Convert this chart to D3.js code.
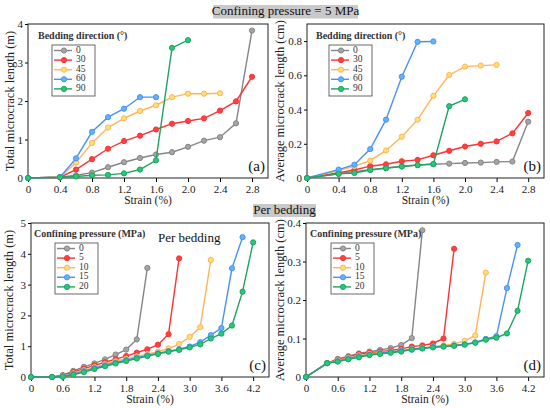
<!DOCTYPE html>
<html>
<head>
<meta charset="utf-8">
<script src="https://cdn.jsdelivr.net/npm/d3@7"></script>
<style>
  body { margin: 0; background: #fff; }
  svg text { font-family: "Liberation Serif", "Times New Roman", Times, serif; }
</style>
</head>
<body>
<svg id="chart" width="550" height="408"></svg>
<script>
// ---- data ----
const strainAB = [0, 0.4, 0.6, 0.8, 1.0, 1.2, 1.4, 1.6, 1.8, 2.0, 2.2, 2.4, 2.6, 2.8];
const strainCD = [0, 0.4, 0.6, 0.8, 1.0, 1.2, 1.4, 1.6, 1.8, 2.0, 2.2, 2.4, 2.6, 2.8, 3.0, 3.2, 3.4, 3.6, 3.8, 4.0, 4.2];

const beddingLabels = ["0", "30", "45", "60", "90"];
const pressureLabels = ["0", "5", "10", "15", "20"];

// (a) total microcrack length (m), 5 MPa confining pressure
const totalBed0  = [0, 0.02, 0.07, 0.14, 0.28, 0.41, 0.52, 0.61, 0.67, 0.81, 0.97, 1.06, 1.42, 3.83];
const totalBed30 = [0, 0.02, 0.22, 0.49, 0.76, 0.96, 1.10, 1.26, 1.41, 1.48, 1.55, 1.75, 1.99, 2.63];
const totalBed45 = [0, 0.02, 0.40, 0.91, 1.31, 1.55, 1.74, 1.89, 2.10, 2.19, 2.19, 2.20];
const totalBed60 = [0, 0.02, 0.51, 1.20, 1.58, 1.80, 2.10, 2.10];
const totalBed90 = [0, 0.02, 0.04, 0.07, 0.08, 0.12, 0.22, 0.46, 3.38, 3.58];

// (b) average microcrack length (cm), 5 MPa confining pressure
const avgBed0  = [0, 0.025, 0.037, 0.049, 0.059, 0.069, 0.076, 0.080, 0.084, 0.088, 0.090, 0.094, 0.096, 0.329];
const avgBed30 = [0, 0.031, 0.047, 0.069, 0.080, 0.098, 0.106, 0.133, 0.159, 0.184, 0.200, 0.214, 0.261, 0.380];
const avgBed45 = [0, 0.043, 0.069, 0.102, 0.161, 0.241, 0.341, 0.480, 0.602, 0.651, 0.657, 0.661];
const avgBed60 = [0, 0.049, 0.078, 0.169, 0.341, 0.592, 0.796, 0.798];
const avgBed90 = [0, 0.024, 0.029, 0.047, 0.057, 0.067, 0.075, 0.082, 0.420, 0.460];

// (c) total microcrack length (m), per bedding
const totalP0  = [0, 0, 0.06, 0.20, 0.33, 0.44, 0.57, 0.73, 0.89, 1.22, 3.54];
const totalP5  = [0, 0, 0.05, 0.16, 0.27, 0.38, 0.48, 0.58, 0.68, 0.79, 0.90, 1.05, 1.39, 3.85];
const totalP10 = [0, 0, 0.03, 0.12, 0.22, 0.32, 0.42, 0.51, 0.59, 0.67, 0.74, 0.82, 0.93, 1.07, 1.30, 1.62, 3.80];
const totalP15 = [0, 0, 0.02, 0.10, 0.19, 0.29, 0.38, 0.47, 0.55, 0.63, 0.70, 0.77, 0.84, 0.90, 0.99, 1.13, 1.36, 1.59, 3.53, 4.54];
const totalP20 = [0, 0, 0.01, 0.07, 0.16, 0.26, 0.35, 0.44, 0.52, 0.60, 0.68, 0.75, 0.82, 0.88, 0.96, 1.06, 1.25, 1.41, 1.67, 2.77, 4.37];

// (d) average microcrack length (cm), per bedding
const avgP0  = [0, 0.036, 0.047, 0.054, 0.061, 0.066, 0.070, 0.075, 0.083, 0.101, 0.381];
const avgP5  = [0, 0.036, 0.045, 0.052, 0.060, 0.063, 0.066, 0.069, 0.073, 0.079, 0.082, 0.087, 0.100, 0.333];
const avgP10 = [0, 0.036, 0.043, 0.050, 0.056, 0.060, 0.063, 0.066, 0.069, 0.073, 0.076, 0.079, 0.082, 0.086, 0.094, 0.108, 0.271];
const avgP15 = [0, 0.036, 0.041, 0.048, 0.054, 0.058, 0.062, 0.065, 0.068, 0.072, 0.075, 0.078, 0.080, 0.082, 0.085, 0.090, 0.099, 0.106, 0.231, 0.343];
const avgP20 = [0, 0.036, 0.040, 0.046, 0.051, 0.057, 0.060, 0.063, 0.066, 0.071, 0.074, 0.077, 0.079, 0.081, 0.084, 0.089, 0.097, 0.102, 0.113, 0.172, 0.302];

// tick values
const xTicksAB = [0, 0.4, 0.8, 1.2, 1.6, 2.0, 2.4, 2.8];
const xTicksCD = [0, 0.6, 1.2, 1.8, 2.4, 3.0, 3.6, 4.2];
const yTicksA = [0, 1, 2, 3, 4];
const yTicksB = [0, 0.2, 0.4, 0.6, 0.8];
const yTicksC = [0, 1, 2, 3, 4, 5];
const yTicksD = [0, 0.1, 0.2, 0.3, 0.4];

const seriesColors = ["#858585", "#f83434", "#ffb45c", "#4b91f5", "#1fa262"];

// ---- layout ----
const svg = d3.select("#chart");

const panels = [
    { id: "(a)", box: [28, 24, 268, 178], xMax: 3.0, yMax: 4, xTicks: xTicksAB, yTicks: yTicksA,
      x: strainAB, series: [totalBed0, totalBed30, totalBed45, totalBed60, totalBed90],
      labels: beddingLabels, legendTitle: "Bedding direction (°)",
      yTitle: "Total microcrack length (m)", yTitleX: 11, legend: [52, 45, 43, 14] },
    { id: "(b)", box: [307, 24, 544, 178], xMax: 3.0, yMax: 0.9, xTicks: xTicksAB, yTicks: yTicksB,
      x: strainAB, series: [avgBed0, avgBed30, avgBed45, avgBed60, avgBed90],
      labels: beddingLabels, legendTitle: "Bedding direction (°)",
      yTitle: "Average  microcrack length (cm)", yTitleX: 281, legend: [329, 45, 43, 13] },
    { id: "(c)", box: [31, 223, 269, 377], xMax: 4.5, yMax: 5, xTicks: xTicksCD, yTicks: yTicksC,
      x: strainCD, series: [totalP0, totalP5, totalP10, totalP15, totalP20],
      labels: pressureLabels, legendTitle: "Confining pressure (MPa)",
      yTitle: "Total microcrack length (m)", yTitleX: 10, legend: [55, 243, 43, 21] },
    { id: "(d)", box: [306, 223, 544, 377], xMax: 4.5, yMax: 0.4, xTicks: xTicksCD, yTicks: yTicksD,
      x: strainCD, series: [avgP0, avgP5, avgP10, avgP15, avgP20],
      labels: pressureLabels, legendTitle: "Confining pressure (MPa)",
      yTitle: "Average microcrack length (cm)", yTitleX: 281, legend: [331, 243, 43, 21] }
];

function fmt(v) {
    return v === 0 ? "0" : d3.format(".1f")(v);
}

panels.forEach(p => {
    const [left, top, right, bottom] = p.box;
    const x = d3.scaleLinear().domain([0, p.xMax]).range([left, right]);
    const y = d3.scaleLinear().domain([0, p.yMax]).range([bottom, top]);
    const g = svg.append("g");

    // axes
    g.append("g")
        .attr("transform", `translate(0,${bottom})`)
        .call(d3.axisBottom(x).tickValues(p.xTicks).tickFormat(fmt).tickSize(4).tickPadding(3))
        .call(a => a.select(".domain").remove())
        .call(a => a.selectAll("text").attr("font-size", 11).attr("fill", "#222"));
    g.append("g")
        .attr("transform", `translate(${left},0)`)
        .call(d3.axisLeft(y).tickValues(p.yTicks).tickFormat(p.yMax > 1 ? d3.format("d") : fmt).tickSize(3).tickPadding(2))
        .call(a => a.select(".domain").remove())
        .call(a => a.selectAll("text").attr("font-size", 11).attr("fill", "#222"));

    // frame
    g.append("rect")
        .attr("x", left).attr("y", top)
        .attr("width", right - left).attr("height", bottom - top)
        .attr("fill", "none").attr("stroke", "#222").attr("stroke-width", 1);

    // axis titles
    g.append("text")
        .attr("x", (left + right) / 2).attr("y", bottom + 26)
        .attr("text-anchor", "middle").attr("font-size", 11.5).attr("fill", "#222")
        .text("Strain (%)");
    g.append("text")
        .attr("transform", `translate(${p.yTitleX},${(top + bottom) / 2}) rotate(-90)`)
        .attr("text-anchor", "middle").attr("dominant-baseline", "middle")
        .attr("font-size", 12.5).attr("fill", "#222")
        .text(p.yTitle);

    // series
    const line = d3.line().x(d => x(d[0])).y(d => y(d[1]));
    p.series.forEach((vals, i) => {
        const pts = vals.map((v, j) => [p.x[j], v]);
        const col = seriesColors[i];
        g.append("path")
            .attr("d", line(pts))
            .attr("fill", "none").attr("stroke", col).attr("stroke-width", 1.4);
        g.selectAll(null).data(pts).enter().append("circle")
            .attr("cx", d => x(d[0])).attr("cy", d => y(d[1]))
            .attr("r", 2.6)
            .attr("fill", d3.color(col).brighter(0.6))
            .attr("stroke", col).attr("stroke-width", 1);
    });

    // panel label
    g.append("text")
        .attr("x", right - 3).attr("y", bottom - 7)
        .attr("text-anchor", "end").attr("font-size", 15).attr("fill", "#111")
        .text(p.id);

    // legend
    const [lx, ly, lw, titleShift] = p.legend;
    g.append("text")
        .attr("x", lx - titleShift).attr("y", ly - 6)
        .attr("font-size", 10).attr("font-weight", "bold").attr("fill", "#333")
        .text(p.legendTitle);
    g.append("rect")
        .attr("x", lx).attr("y", ly).attr("width", lw).attr("height", 51)
        .attr("fill", "#fff").attr("stroke", "#444").attr("stroke-width", 0.8);
    p.labels.forEach((lab, i) => {
        const yy = ly + 5.5 + i * 9.6;
        const col = seriesColors[i];
        g.append("line")
            .attr("x1", lx + 2).attr("x2", lx + 20).attr("y1", yy).attr("y2", yy)
            .attr("stroke", col).attr("stroke-width", 1.4);
        g.append("circle")
            .attr("cx", lx + 12).attr("cy", yy).attr("r", 2.6)
            .attr("fill", d3.color(col).brighter(0.6)).attr("stroke", col);
        g.append("text")
            .attr("x", lx + 24).attr("y", yy).attr("dominant-baseline", "middle")
            .attr("font-size", 9.5).attr("fill", "#333")
            .text(lab);
    });
});

// "Per bedding" annotation inside (c)
svg.append("text")
    .attr("x", 158).attr("y", 242)
    .attr("font-size", 13).attr("fill", "#111")
    .text("Per bedding");

// banners
const banners = [
    { text: "Confining pressure = 5 MPa", box: [213, 5, 358, 18.5] },
    { text: "Per bedding", box: [253, 204, 316, 217] }
];
banners.forEach(b => {
    const [x0, y0, x1, y1] = b.box;
    svg.append("rect")
        .attr("x", x0).attr("y", y0).attr("width", x1 - x0).attr("height", y1 - y0)
        .attr("fill", "#c9c9c9");
    svg.append("text")
        .attr("x", (x0 + x1) / 2).attr("y", (y0 + y1) / 2 + 0.5)
        .attr("text-anchor", "middle").attr("dominant-baseline", "middle")
        .attr("font-size", 13).attr("fill", "#111")
        .text(b.text);
});
</script>
</body>
</html>
